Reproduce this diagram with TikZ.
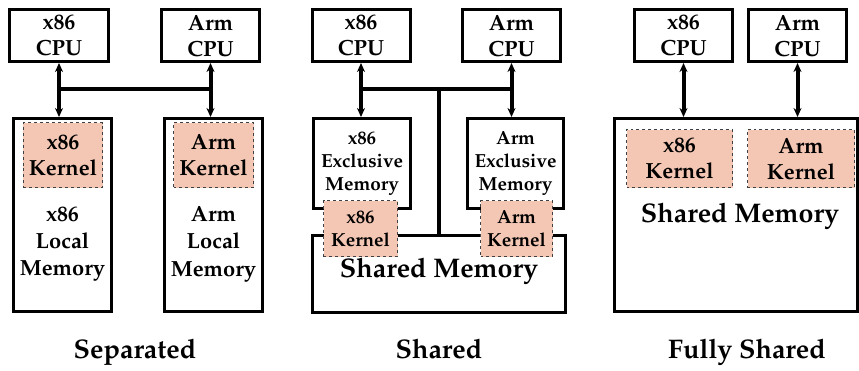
\documentclass[tikz,border=0pt]{standalone}
\usepackage[T1]{fontenc}
\usepackage{mathpazo}
\usetikzlibrary{arrows.meta}
\definecolor{kernfill}{RGB}{244,199,180}
\begin{document}
\begin{tikzpicture}[x=1bp,y=-1bp, >={Stealth[length=9bp,width=8bp]},
		box/.style={draw, line width=3bp, inner sep=0pt, align=center},
		cpu/.style={box, minimum width=98bp, minimum height=52bp, font=\bfseries\fontsize{22}{26}\selectfont},
		kern/.style={draw=black!75, dashed, fill=kernfill, line width=0.8bp, inner sep=0pt, align=center, font=\bfseries\fontsize{22}{26}\selectfont},
		wire/.style={line width=4bp},
		memtext/.style={align=center, inner sep=0pt, font=\bfseries\fontsize{22}{27.5}\selectfont},
		caption/.style={anchor=base, inner sep=0pt, font=\bfseries\fontsize{27}{30}\selectfont}]
	\useasboundingbox (0,0) rectangle (859,370);
	% separated
	\node[cpu] (cpux1) at (59,35.5) {x86\\CPU};
	\node[cpu] (cpua1) at (210.5,35.5) {Arm\\CPU};
	\node[box, minimum width=98bp, minimum height=193bp] (memx1) at (62.5,215) {};
	\node[box, minimum width=98bp, minimum height=193bp] (mema1) at (213.5,215) {};
	\node[kern, minimum width=79bp, minimum height=65bp] (kerx1) at (63,155) {x86\\Kernel};
	\node[kern, minimum width=80bp, minimum height=65bp] (kera1) at (213.5,155) {Arm\\Kernel};
	\node[memtext] (memx1txt) at (62.5,244) {x86\\Local\\Memory};
	\node[memtext] (mema1txt) at (213.5,244) {Arm\\Local\\Memory};
	\coordinate (bus1) at (0,89);
	\draw [wire, <->] (cpux1.south) -- (cpux1.south |- memx1.north);
	\draw [wire, <->] (cpua1.south) -- (cpua1.south |- mema1.north);
	\draw [wire] (cpux1.south |- bus1) -- (cpua1.south |- bus1);
	\node[caption] (sep) at (135,358) {Separated};
	% shared
	\node[cpu] (cpux2) at (361,35.5) {x86\\CPU};
	\node[cpu] (cpua2) at (511.5,35.5) {Arm\\CPU};
	\node[box, minimum width=97bp, minimum height=90bp, font=\bfseries\fontsize{19}{23}\selectfont] (exx2) at (362,163.5) {x86\\Exclusive\\Memory};
	\node[box, minimum width=96bp, minimum height=90bp, font=\bfseries\fontsize{19}{23}\selectfont] (exa2) at (515.5,163.5) {Arm\\Exclusive\\Memory};
	\node[box, minimum width=253bp, minimum height=77bp] (shm2) at (439,274) {};
	\node[memtext, font=\bfseries\fontsize{27}{30}\selectfont] (shm2txt) at (439,271) {Shared Memory};
	\coordinate (bus2) at (0,89);
	\draw [wire, <->] (cpux2.south) -- (cpux2.south |- exx2.north);
	\draw [wire, <->] (cpua2.south) -- (cpua2.south |- exa2.north);
	\draw [wire] (cpux2.south |- bus2) -- (cpua2.south |- bus2);
	\draw [wire] (shm2.north |- bus2) -- (shm2.north);
	\node[kern, minimum width=74bp, minimum height=56bp, font=\bfseries\fontsize{19}{23}\selectfont] (kerx2) at (360.5,228.5) {x86\\Kernel};
	\node[kern, minimum width=72bp, minimum height=56bp, font=\bfseries\fontsize{19}{23}\selectfont] (kera2) at (516.5,228.5) {Arm\\Kernel};
	\node[caption] (shd) at (439,358) {Shared};
	% fully shared
	\node[cpu] (cpux3) at (683.5,35.5) {x86\\CPU};
	\node[cpu] (cpua3) at (797.5,35.5) {Arm\\CPU};
	\node[box, minimum width=243bp, minimum height=193bp] (shm3) at (736,215) {};
	\node[kern, minimum width=106bp, minimum height=58bp] (kerx3) at (679.5,158.5) {x86\\Kernel};
	\node[kern, minimum width=107bp, minimum height=58bp] (kera3) at (801,158.5) {Arm\\Kernel};
	\node[memtext, font=\bfseries\fontsize{27}{30}\selectfont] (shm3txt) at (740,216) {Shared Memory};
	\draw [wire, <->] (cpux3.south) -- (cpux3.south |- shm3.north);
	\draw [wire, <->] (cpua3.south) -- (cpua3.south |- shm3.north);
	\node[caption] (fsh) at (747,358) {Fully Shared};
\end{tikzpicture}
\end{document}
